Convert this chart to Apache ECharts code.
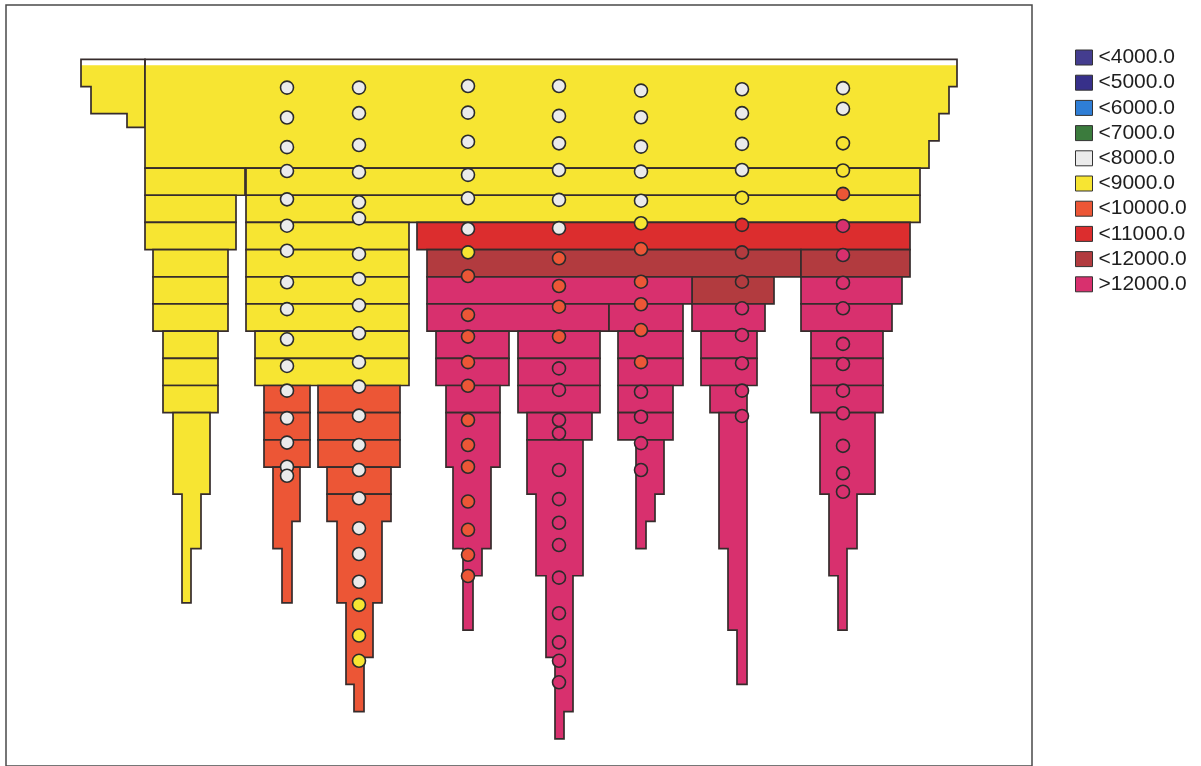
<!DOCTYPE html>
<html>
<head>
<meta charset="utf-8">
<script src="https://cdn.jsdelivr.net/npm/echarts@6/dist/echarts.min.js"></script>
<style>
  html, body { margin: 0; padding: 0; background: #ffffff; }
  #chart { width: 1201px; height: 766px; }
</style>
</head>
<body>
<div id="chart"></div>
<script>
// Value classes shown in the legend
const classLabels = ['<4000.0', '<5000.0', '<6000.0', '<7000.0', '<8000.0', '<9000.0', '<10000.0', '<11000.0', '<12000.0', '>12000.0'];
const classColors = ['#443d8f', '#37308a', '#2f7ed6', '#3b7b3d', '#ebebeb', '#f7e532', '#ec5636', '#dc2d2e', '#b23b3f', '#d8306e'];

// Unsampled band at the top of the section (depth in layers)
const blankBand = 0.22;

// Each block is one outlined polygon; rows: [top depth, bottom depth, left x, right x]
const yellowBlocks = [
  [[0, 1, 75, 139], [1, 2, 85, 139], [2, 2.5, 121, 139]],
  [[0, 1, 139, 951], [1, 2, 139, 943], [2, 3, 139, 933], [3, 4, 139, 923]],
  [[4, 5, 139, 239]], [[5, 6, 139, 230]], [[6, 7, 139, 230]],
  [[7, 8, 147, 222]], [[8, 9, 147, 222]], [[9, 10, 147, 222]],
  [[10, 11, 157, 212]], [[11, 12, 157, 212]], [[12, 13, 157, 212]],
  [[13, 16, 167, 204], [16, 18, 176, 195], [18, 20, 176, 185]],
  [[4, 5, 240, 914]], [[5, 6, 240, 914]],
  [[6, 7, 240, 403]], [[7, 8, 240, 403]], [[8, 9, 240, 403]], [[9, 10, 240, 403]],
  [[10, 11, 249, 403]], [[11, 12, 249, 403]]
];
const orangeBlocks = [
  [[12, 13, 258, 304]], [[13, 14, 258, 304]], [[14, 15, 258, 304]],
  [[15, 17, 267, 294], [17, 18, 267, 286], [18, 20, 276, 286]],
  [[12, 13, 312, 394]], [[13, 14, 312, 394]], [[14, 15, 312, 394]], [[15, 16, 321, 385]],
  [[16, 17, 321, 385], [17, 20, 331, 376], [20, 22, 340, 367], [22, 23, 340, 358], [23, 24, 348, 358]]
];
const redBlocks = [
  [[6, 7, 411, 904]]
];
const brownBlocks = [
  [[7, 8, 421, 795]], [[7, 8, 795, 904]], [[8, 9, 686, 768]]
];
const magentaBlocks = [
  [[8, 9, 421, 686]], [[9, 10, 421, 603]],
  [[10, 11, 430, 503]], [[11, 12, 430, 503]], [[12, 13, 440, 494]],
  [[13, 15, 440, 494], [15, 18, 447, 485], [18, 19, 457, 476], [19, 21, 457, 467]],
  [[10, 11, 512, 594]], [[11, 12, 512, 594]], [[12, 13, 512, 594]], [[13, 14, 521, 586]],
  [[14, 16, 521, 577], [16, 19, 530, 577], [19, 22, 540, 567], [22, 24, 549, 567], [24, 25, 549, 558]],
  [[9, 10, 603, 677]], [[10, 11, 612, 677]], [[11, 12, 612, 677]], [[12, 13, 612, 667]], [[13, 14, 612, 667]],
  [[14, 16, 630, 658], [16, 17, 630, 649], [17, 18, 630, 640]],
  [[9, 10, 686, 759]], [[10, 11, 695, 751]], [[11, 12, 695, 751]], [[12, 13, 704, 741]],
  [[13, 18, 713, 741], [18, 21, 722, 741], [21, 23, 731, 741]],
  [[8, 9, 795, 896]], [[9, 10, 795, 886]], [[10, 11, 805, 877]], [[11, 12, 805, 877]], [[12, 13, 805, 877]],
  [[13, 16, 814, 869], [16, 18, 823, 851], [18, 19, 823, 841], [19, 21, 832, 841]]
];

// Sample points per well: [depth, class index]
const wellX = [281, 353, 462, 553, 635, 736, 837];
const well1 = [[1.04, 4], [2.14, 4], [3.23, 4], [4.11, 4], [5.15, 4], [6.12, 4], [7.04, 4], [8.20, 4], [9.19, 4], [10.30, 4], [11.28, 4], [12.19, 4], [13.20, 4], [14.10, 4], [14.99, 4], [15.32, 4]];
const well2 = [[1.04, 4], [1.98, 4], [3.15, 4], [4.15, 4], [5.26, 4], [5.85, 4], [7.16, 4], [8.08, 4], [9.05, 4], [10.08, 4], [11.14, 4], [12.04, 4], [13.11, 4], [14.19, 4], [15.11, 4], [16.15, 4], [17.25, 4], [18.20, 4], [19.22, 4], [20.07, 5], [21.20, 5], [22.13, 5]];
const well3 = [[0.98, 4], [1.96, 4], [3.03, 4], [4.25, 4], [5.11, 4], [6.24, 4], [7.10, 5], [7.97, 6], [9.40, 6], [10.20, 6], [11.14, 6], [12.01, 6], [13.27, 6], [14.19, 6], [14.99, 6], [16.27, 6], [17.31, 6], [18.23, 6], [19.01, 6]];
const well4 = [[0.98, 4], [2.08, 4], [3.09, 4], [4.07, 4], [5.17, 4], [6.21, 4], [7.32, 6], [8.34, 6], [9.10, 6], [10.20, 6], [11.37, 9], [12.16, 9], [13.27, 9], [13.76, 9], [15.11, 9], [16.18, 9], [17.05, 9], [17.87, 9], [19.07, 9], [20.38, 9], [21.45, 9], [22.13, 9], [22.92, 9]];
const well5 = [[1.15, 4], [2.13, 4], [3.21, 4], [4.13, 4], [5.20, 4], [6.03, 5], [6.98, 6], [8.18, 6], [9.01, 6], [9.96, 6], [11.14, 6], [12.23, 9], [13.15, 9], [14.12, 9], [15.11, 9]];
const well6 = [[1.10, 4], [1.98, 4], [3.11, 4], [4.07, 4], [5.09, 5], [6.09, 7], [7.10, 8], [8.18, 8], [9.16, 9], [10.14, 9], [11.18, 9], [12.19, 9], [13.12, 9]];
const well7 = [[1.06, 4], [1.82, 4], [3.09, 5], [4.09, 5], [4.95, 6], [6.13, 9], [7.20, 9], [8.22, 9], [9.16, 9], [10.47, 9], [11.21, 9], [12.19, 9], [13.02, 9], [14.22, 9], [15.23, 9], [15.91, 9]];

// ---- build series data ----
const allBlocks = [].concat(
  yellowBlocks.map(rows => ({ cls: 5, rows })),
  orangeBlocks.map(rows => ({ cls: 6, rows })),
  redBlocks.map(rows => ({ cls: 7, rows })),
  brownBlocks.map(rows => ({ cls: 8, rows })),
  magentaBlocks.map(rows => ({ cls: 9, rows }))
);
const blockData = allBlocks.map((b, i) => [b.rows[0][2], b.rows[0][0], i]);

const wells = [well1, well2, well3, well4, well5, well6, well7];
const samples = [];
wells.forEach((w, wi) => w.forEach(s => samples.push([wellX[wi], s[0], s[1]])));

const lineColor = '#362c2c';

function stepOutline(rows, api) {
  const right = [], left = [];
  rows.forEach(r => {
    right.push(api.coord([r[3], r[0]]), api.coord([r[3], r[1]]));
    left.push(api.coord([r[2], r[0]]), api.coord([r[2], r[1]]));
  });
  return right.concat(left.reverse());
}

function renderBlock(params, api) {
  const b = allBlocks[api.value(2)];
  const fillRows = b.rows
    .map(r => [Math.max(r[0], blankBand), r[1], r[2], r[3]])
    .filter(r => r[1] > r[0]);
  return {
    type: 'group',
    children: [
      { type: 'polygon', shape: { points: stepOutline(fillRows, api) },
        style: { fill: classColors[b.cls], stroke: null } },
      { type: 'polygon', shape: { points: stepOutline(b.rows, api) },
        style: { fill: 'transparent', stroke: lineColor, lineWidth: 1.7, lineJoin: 'miter' } }
    ]
  };
}

const series = [{
  type: 'custom',
  name: 'section',
  silent: true,
  z: 2,
  renderItem: renderBlock,
  encode: { x: 0, y: 1 },
  data: blockData
}];

classLabels.forEach((name, k) => {
  series.push({
    type: 'scatter',
    name: name,
    z: 5,
    silent: true,
    symbol: 'circle',
    symbolSize: 13,
    itemStyle: { color: classColors[k], borderColor: '#2b2b2b', borderWidth: 1.6, opacity: 1 },
    data: samples.filter(s => s[2] === k).map(s => [s[0], s[1]])
  });
});

const chart = echarts.init(document.getElementById('chart'), null, { renderer: 'canvas' });
chart.setOption({
  animation: false,
  backgroundColor: '#ffffff',
  grid: {
    left: 6, right: 169, top: 5, bottom: 0,
    show: true, borderColor: '#4a4a4a', borderWidth: 1.5, backgroundColor: 'transparent'
  },
  xAxis: { type: 'value', min: 0, max: 1026, show: false },
  yAxis: { type: 'value', min: -2, max: 26, inverse: true, show: false },
  legend: {
    orient: 'vertical',
    left: 1070, top: 42,
    icon: 'rect',
    itemWidth: 17, itemHeight: 15, itemGap: 4.2,
    selectedMode: false,
    data: classLabels,
    itemStyle: { borderColor: '#333333', borderWidth: 1 },
    textStyle: { fontSize: 21, color: '#1e1e1e', fontFamily: 'Liberation Sans, Arial, sans-serif', padding: [0, 0, 0, 1] }
  },
  series: series
});
</script>
</body>
</html>
